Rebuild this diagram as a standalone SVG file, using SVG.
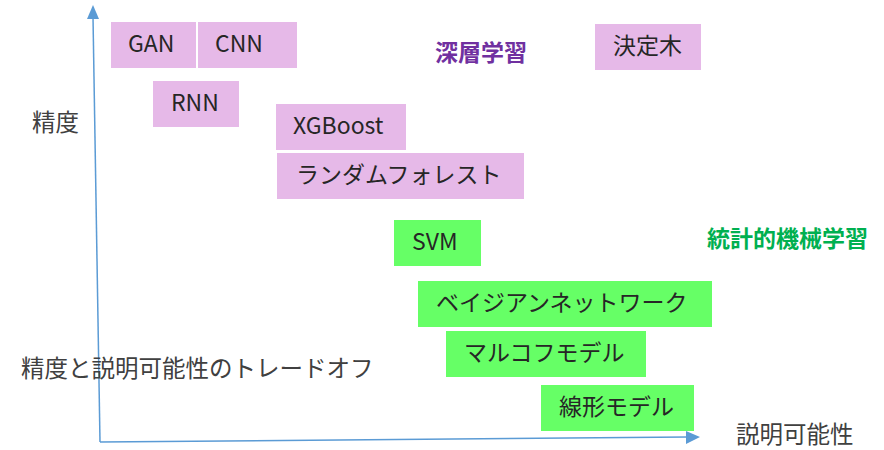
<svg xmlns="http://www.w3.org/2000/svg" width="884" height="450" viewBox="0 0 884 450">
  <style>
    text { font-family: "Noto Sans CJK JP", "Noto Sans", sans-serif; font-size: 23px; }
    .box-dl { fill: #E6B9E8; }
    .box-st { fill: #66FF66; }
    .lbl { fill: #262626; }
    .axis-label { fill: #404040; font-size: 23.5px; }
    .axis { stroke: #5B9BD5; stroke-width: 1.5; fill: none; }
    .head { fill: #5B9BD5; }
    .cat-dl { fill: #7030A0; font-weight: bold; }
    .cat-st { fill: #00B050; font-weight: bold; }
  </style>
  <rect width="884" height="450" fill="#ffffff"/>

  <!-- axes -->
  <g id="connectors">
    <path class="axis" d="M100,442 L93,17"/>
    <polygon class="head" points="93,5 87,19 99,19"/>
    <path class="axis" d="M100,442 L688,437"/>
    <polygon class="head" points="700,437 686,431 686,444"/>
  </g>

  <!-- axis and caption texts -->
  <g id="axis-y-label"><text class="axis-label" x="32" y="131">精度</text></g>
  <g id="axis-x-label"><text class="axis-label" x="736" y="443">説明可能性</text></g>
  <g id="caption"><text class="axis-label" x="21" y="377">精度と説明可能性のトレードオフ</text></g>

  <!-- category labels -->
  <g id="cat-deep"><text class="cat-dl" x="435" y="61">深層学習</text></g>
  <g id="cat-stat"><text class="cat-st" x="707" y="247">統計的機械学習</text></g>

  <!-- deep learning / ensemble models -->
  <g id="gan"><rect class="box-dl" x="111" y="22" width="85" height="46"/><text class="lbl" x="128" y="52">GAN</text></g>
  <g id="cnn"><rect class="box-dl" x="198" y="22" width="99" height="46"/><text class="lbl" x="215" y="52">CNN</text></g>
  <g id="rnn"><rect class="box-dl" x="153" y="81" width="86" height="46"/><text class="lbl" x="171" y="111">RNN</text></g>
  <g id="xgboost"><rect class="box-dl" x="276" y="104" width="130" height="46"/><text class="lbl" x="293" y="134">XGBoost</text></g>
  <g id="random-forest"><rect class="box-dl" x="277" y="153" width="247" height="46"/><text class="lbl" x="296" y="183">ランダムフォレスト</text></g>
  <g id="decision-tree"><rect class="box-dl" x="595" y="24" width="106" height="46"/><text class="lbl" x="613" y="54">決定木</text></g>

  <!-- statistical models -->
  <g id="svm"><rect class="box-st" x="394" y="220" width="87" height="46"/><text class="lbl" x="412" y="250">SVM</text></g>
  <g id="bayes-net"><rect class="box-st" x="418" y="281" width="294" height="46"/><text class="lbl" x="436" y="311">ベイジアンネットワーク</text></g>
  <g id="markov"><rect class="box-st" x="446" y="331" width="200" height="46"/><text class="lbl" x="464" y="361">マルコフモデル</text></g>
  <g id="linear"><rect class="box-st" x="541" y="385" width="153" height="46"/><text class="lbl" x="559" y="415">線形モデル</text></g>
</svg>
